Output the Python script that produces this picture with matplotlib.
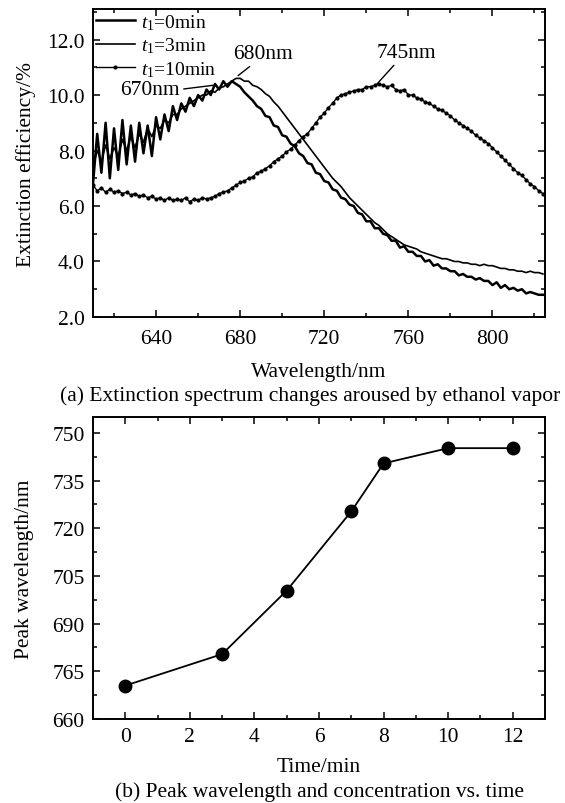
import numpy as np
import matplotlib
matplotlib.use('Agg')
import matplotlib.pyplot as plt
from matplotlib.ticker import MultipleLocator, FixedLocator, FixedFormatter, FormatStrFormatter

plt.rcParams['font.family'] = ['Liberation Serif', 'DejaVu Serif']
plt.rcParams['mathtext.fontset'] = 'custom'
plt.rcParams['mathtext.rm'] = 'Liberation Serif'
plt.rcParams['mathtext.it'] = 'Liberation Serif:italic'

# (a) extinction spectra, sampled every 2 nm from 610 to 824 nm
wavelength = np.arange(610, 826, 2)

ext_t0 = [6.8, 8.6, 7.2, 9.0, 7.0, 8.8, 7.3, 9.1, 7.5, 8.9,
          7.6, 9.0, 7.9, 8.9, 7.8, 9.2, 8.4, 9.3, 8.7, 9.6,
          9.1, 9.7, 9.4, 9.9, 9.6, 10.0, 9.8, 10.2, 10.0, 10.4,
          10.2, 10.5, 10.3, 10.5, 10.4, 10.3, 10.1, 9.95, 9.8, 9.6,
          9.5, 9.25, 9.2, 8.9, 8.85, 8.55, 8.5, 8.25, 8.15, 7.9,
          7.8, 7.55, 7.5, 7.2, 7.15, 6.9, 6.85, 6.6, 6.55, 6.3,
          6.25, 6.05, 6.0, 5.75, 5.7, 5.45, 5.45, 5.2, 5.2, 5.0,
          4.95, 4.75, 4.75, 4.5, 4.55, 4.35, 4.35, 4.2, 4.2, 4.0,
          4.05, 3.85, 3.9, 3.75, 3.75, 3.65, 3.65, 3.5, 3.55, 3.45,
          3.45, 3.35, 3.4, 3.3, 3.3, 3.15, 3.25, 3.05, 3.15, 3.0,
          3.05, 2.95, 3.0, 2.85, 2.9, 2.85, 2.8, 2.8]

ext_t3 = [7.4, 8.0, 7.6, 8.2, 7.7, 8.1, 7.8, 8.4, 8.0, 8.5,
          8.1, 8.6, 8.3, 8.8, 8.5, 8.9, 8.8, 9.1, 9.0, 9.3,
          9.3, 9.5, 9.6, 9.7, 9.8, 9.9, 10.0, 10.0, 10.15, 10.1,
          10.25, 10.3, 10.4, 10.5, 10.6, 10.6, 10.5, 10.5, 10.35, 10.3,
          10.2, 10.05, 9.95, 9.75, 9.6, 9.4, 9.2, 9.0, 8.8, 8.6,
          8.4, 8.2, 8.0, 7.8, 7.6, 7.4, 7.2, 7.0, 6.85, 6.7,
          6.5, 6.3, 6.15, 6.0, 5.85, 5.7, 5.55, 5.4, 5.3, 5.15,
          5.0, 4.9, 4.8, 4.7, 4.6, 4.55, 4.5, 4.45, 4.35, 4.3,
          4.25, 4.2, 4.15, 4.1, 4.1, 4.05, 4.0, 4.0, 3.95, 3.95,
          3.9, 3.9, 3.85, 3.9, 3.85, 3.85, 3.8, 3.75, 3.75, 3.7,
          3.7, 3.65, 3.65, 3.6, 3.65, 3.6, 3.6, 3.55]

ext_t10 = [6.75, 6.55, 6.65, 6.5, 6.6, 6.5, 6.55, 6.45, 6.5, 6.4,
           6.45, 6.35, 6.4, 6.3, 6.35, 6.25, 6.3, 6.2, 6.3, 6.2,
           6.25, 6.2, 6.3, 6.15, 6.25, 6.2, 6.3, 6.25, 6.3, 6.35,
           6.45, 6.5, 6.55, 6.65, 6.75, 6.85, 6.9, 7.0, 7.05, 7.2,
           7.25, 7.35, 7.45, 7.6, 7.7, 7.8, 7.95, 8.05, 8.2, 8.35,
           8.5, 8.6, 8.8, 9.0, 9.2, 9.35, 9.55, 9.7, 9.9, 10.0,
           10.05, 10.1, 10.15, 10.2, 10.2, 10.3, 10.3, 10.35, 10.4, 10.35,
           10.3, 10.35, 10.2, 10.15, 10.2, 10.0, 10.0, 9.9, 9.85, 9.75,
           9.7, 9.6, 9.5, 9.45, 9.35, 9.25, 9.1, 9.0, 8.9, 8.8,
           8.7, 8.55, 8.45, 8.35, 8.25, 8.1, 7.95, 7.8, 7.65, 7.5,
           7.35, 7.2, 7.1, 6.95, 6.8, 6.7, 6.55, 6.45]

# peak annotations: label, peak position, peak height, label position
peak_labels = ['670nm', '680nm', '745nm']
peak_x = [667, 679, 744.5]
peak_y = [10.35, 10.7, 10.35]
label_x = [637, 691, 759]
label_y = [10.2, 11.5, 11.55]

# (b) peak wavelength vs time
time_min = [0, 3, 5, 7, 8, 10, 12]
peak_wl = [670.5, 680.4, 700.4, 725.3, 740.4, 745.2, 745.2]
b_yticks = [660, 675, 690, 705, 720, 735, 750]
b_yticklabels = ['660', '765', '690', '705', '720', '735', '750']

fs = 15.5

fig = plt.figure(figsize=(5.65, 8.04), dpi=100)
ax1 = fig.add_axes([0.1646, 0.6045, 0.8, 0.383])
ax2 = fig.add_axes([0.1646, 0.1045, 0.8, 0.3756])

ax1.plot(wavelength, ext_t0, color='black', lw=1.8, label='$t_1$=0min')
ax1.plot(wavelength, ext_t3, color='black', lw=1.2, label='$t_1$=3min')
ax1.plot(wavelength, ext_t10, color='black', lw=1.0, marker='o', ms=2,
         label='$t_1$=10min')

ax1.set_xlim(610, 825)
ax1.set_ylim(2.0, 13.1)
ax1.xaxis.set_major_locator(MultipleLocator(40))
ax1.xaxis.set_minor_locator(MultipleLocator(20))
ax1.yaxis.set_major_locator(MultipleLocator(2))
ax1.yaxis.set_minor_locator(MultipleLocator(1))
ax1.yaxis.set_major_formatter(FormatStrFormatter('%.1f'))
ax1.set_xlabel('Wavelength/nm', fontsize=fs, labelpad=10)
ax1.set_ylabel('Extinction efficiency/%', fontsize=fs, labelpad=8)

leg = ax1.legend(loc='upper left', frameon=False, fontsize=14, handlelength=2.0,
                 handletextpad=0.3, borderaxespad=0.05, labelspacing=0.2,
                 borderpad=0.1, numpoints=1)

for lab, px, py, tx, ty in zip(peak_labels, peak_x, peak_y, label_x, label_y):
    rel = (1.0, 0.5) if lab == '670nm' else (0.35, 0.0)
    ax1.annotate(lab, xy=(px, py), xytext=(tx, ty), fontsize=fs,
                 ha='center', va='center',
                 arrowprops=dict(arrowstyle='-', color='black', lw=1.0,
                                 relpos=rel, shrinkA=1, shrinkB=0))

ax2.plot(time_min, peak_wl, color='black', lw=1.3, marker='o', ms=9,
         markerfacecolor='black', markeredgecolor='black')
ax2.set_xlim(-1, 13)
ax2.set_ylim(660, 755)
ax2.xaxis.set_major_locator(MultipleLocator(2))
ax2.xaxis.set_minor_locator(MultipleLocator(1))
ax2.yaxis.set_major_locator(FixedLocator(b_yticks))
ax2.yaxis.set_major_formatter(FixedFormatter(b_yticklabels))
ax2.yaxis.set_minor_locator(MultipleLocator(7.5))
ax2.set_xlabel('Time/min', fontsize=fs, labelpad=8)
ax2.set_ylabel('Peak wavelength/nm', fontsize=fs, labelpad=13)

for ax in (ax1, ax2):
    for sp in ax.spines.values():
        sp.set_linewidth(1.4)
    ax.tick_params(which='both', direction='in', top=True, right=True,
                   labelsize=fs, width=1.1)
    ax.tick_params(which='major', length=5, pad=6)
    ax.tick_params(which='minor', length=3)
ax1.tick_params(axis='x', which='major', pad=9)

fig.text(0.549, 1 - 396 / 804, '(a) Extinction spectrum changes aroused by ethanol vapor',
         ha='center', va='center', fontsize=fs)
fig.text(0.566, 1 - 792 / 804, '(b) Peak wavelength and concentration vs. time',
         ha='center', va='center', fontsize=fs)

fig.savefig('out.png', dpi=100)
